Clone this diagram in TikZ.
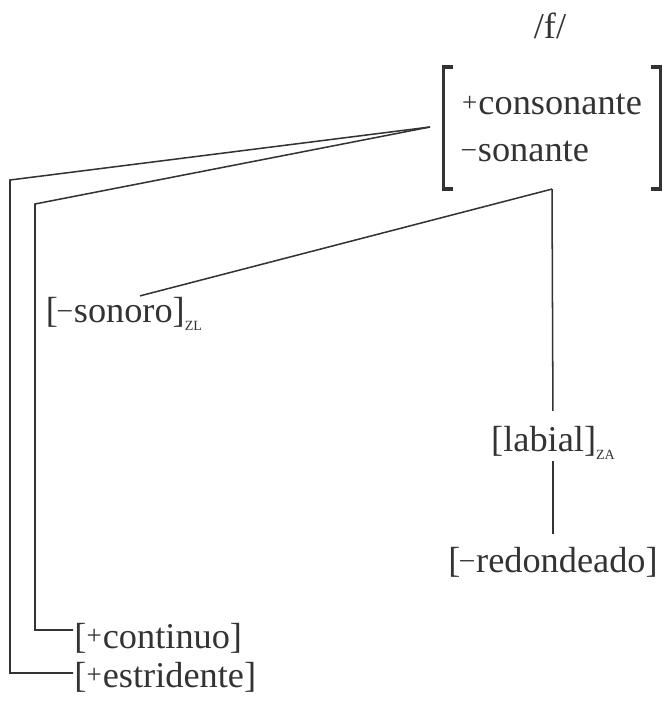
\documentclass[tikz,border=0pt]{standalone}
\usepackage{fontspec}
\setmainfont{Liberation Serif}
\usetikzlibrary{positioning}

\definecolor{ink}{HTML}{333333}
\newcommand{\fpos}{\raisebox{3pt}{\fontsize{23}{23}\selectfont +}\kern1pt}
\newcommand{\fneg}{\raisebox{4pt}{\fontsize{23}{23}\selectfont –}\kern2pt}
\newcommand{\zsub}[1]{\raisebox{-7pt}{\fontsize{12}{12}\selectfont #1}}

\begin{document}
\begin{tikzpicture}[
    x=0.03cm, y=-0.03cm,
    feat/.style={font=\fontsize{31}{40}\selectfont, text=ink, inner sep=1pt},
    link/.style={draw=ink, line width=1.3pt},
    brack/.style={draw=ink, line width=3.2pt}
]
\useasboundingbox (0,0) rectangle (665,702);

% Nodes
\node[feat] (phon) at (550,26) {/f/};
\node[feat, align=left, minimum width=6.5cm, minimum height=3.65cm] (mat) at (552,128) {\fpos consonante\\\fneg sonante};
\node[feat] (son) at (124,314) {[\fneg sonoro]\zsub{ZL}};
\node[feat] (lab) at (553,443) {[labial]\zsub{ZA}};
\node[feat] (red) at (553,562) {[\fneg redondeado]};
\node[feat, anchor=west] (cont) at (73,638) {[\fpos continuo]};
\node[feat, anchor=west] (estr) at (73,677) {[\fpos estridente]};

% Corchetes
\draw[brack] ([xshift=8pt]mat.north west) -- (mat.north west) -- (mat.south west) -- ([xshift=8pt]mat.south west);
\draw[brack] ([xshift=-8pt]mat.north east) -- (mat.north east) -- (mat.south east) -- ([xshift=-8pt]mat.south east);

% Esquinas
\coordinate (apex) at (430,127);
\coordinate (c1) at (10,180); \coordinate (c2) at (10,673);
\coordinate (d1) at (35,204); \coordinate (d2) at (35,630);

% Collegamenti
\draw[link] (apex) -- (c1) -- (c2) -- (c2 -| estr.west);
\draw[link] (apex) -- (d1) -- (d2) -- (d2 -| cont.west);
\draw[link] (mat.south) -- ([xshift=0.48cm]son.north);
\draw[link, shorten >=12pt] (mat.south) -- (lab.north);
\draw[link, shorten >=10pt] (lab.south) -- (red.north);

\end{tikzpicture}
\end{document}
